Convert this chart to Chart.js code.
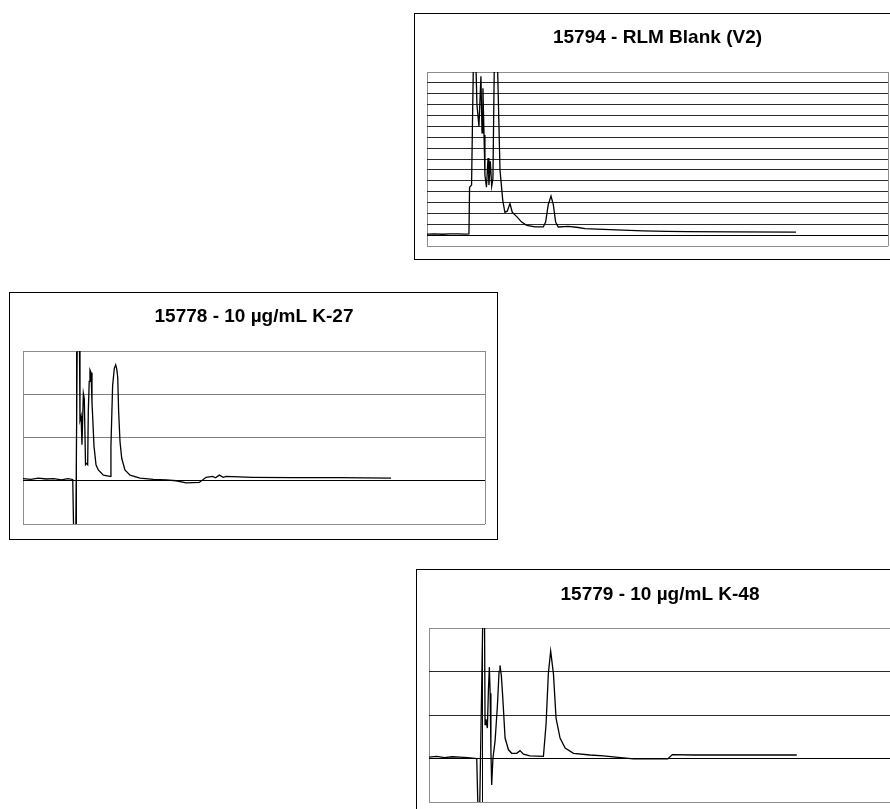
<!DOCTYPE html>
<html>
<head>
<meta charset="utf-8">
<title>Chromatograms</title>
<script src="https://cdn.jsdelivr.net/npm/chart.js@4.4.1/dist/chart.umd.min.js"></script>
<style>
html,body{margin:0;padding:0;background:#fff;overflow:hidden;width:890px;height:809px;}
.panel{position:absolute;border:1px solid #000;background:#fff;}
.panel canvas{display:block;}
</style>
</head>
<body>

<div class="panel" style="left:414px;top:13px;"><canvas id="chart15794" width="488" height="245"></canvas></div>
<div class="panel" style="left:9px;top:292px;"><canvas id="chart15778" width="487" height="246"></canvas></div>
<div class="panel" style="left:416px;top:569px;"><canvas id="chart15779" width="487" height="247"></canvas></div>

<script>
// =========================================
// Chromatogram traces (time in min, signal in grid units)
// =========================================

Chart.defaults.font.family = "'Liberation Sans', Arial, sans-serif";
Chart.defaults.color = "#000000";

const xMin = -3.5;
const xMax = 26.5;

// 15794 - RLM Blank (V2)
const blankTimes = [
    -3.5,-3.0,-2.5,-2.0,-1.5,-1.0,-0.77,-0.73,-0.60,-0.46,-0.36,-0.25,-0.12,
    0.01,0.08,0.14,0.21,0.27,0.37,0.47,0.53,0.62,0.71,0.79,0.90,1.05,1.15,
    1.25,1.43,1.57,1.72,1.90,2.05,2.34,2.66,2.99,3.53,4.07,4.22,4.39,4.57,
    4.72,4.87,5.04,5.69,6.34,6.78,7.56,8.41,10.55,12.11,13.42,16.5,20.51
];
const blankSignal = [
    0.10,0.12,0.08,0.11,0.12,0.10,0.12,4.4,4.6,18,18,12,10,
    14.6,9.4,13.5,9.2,5.5,4.4,7.1,4.6,6.8,4.5,5.2,18,18,12,
    6,3.2,2.1,2.2,2.9,2.1,1.7,1.2,0.9,0.75,0.75,1.2,2.8,3.6,
    2.8,1.2,0.75,0.8,0.7,0.6,0.55,0.5,0.4,0.34,0.32,0.3,0.28
];

// 15778 - 10 µg/mL K-27
const k27Times = [
    -3.5,-3.0,-2.5,-2.0,-1.5,-1.0,-0.6,-0.27,-0.19,-0.08,0.03,0.16,0.20,0.27,
    0.33,0.42,0.48,0.56,0.63,0.70,0.74,0.80,0.85,0.92,0.98,1.02,1.11,1.24,
    1.39,1.72,2.15,2.21,2.32,2.43,2.52,2.58,2.65,2.71,2.80,2.91,3.12,3.45,
    4.10,4.96,5.8,6.44,7.09,7.95,8.39,8.82,9.0,9.25,9.5,9.69,11.4,14.0,
    17.0,20.4
];
const k27Signal = [
    0.05,0.03,0.06,0.04,0.05,0.02,0.05,0.03,-1.6,-1.6,3.6,3.6,1.4,1.5,
    0.83,2.02,1.9,0.37,0.4,0.37,1.6,2.3,2.56,2.5,1.8,1.52,0.8,0.37,
    0.25,0.13,0.1,0.8,2.2,2.6,2.68,2.6,2.4,1.6,0.9,0.52,0.25,0.13,
    0.06,0.03,0.02,0.0,-0.05,-0.04,0.08,0.1,0.07,0.13,0.08,0.1,0.08,0.07,
    0.07,0.06
];

// 15779 - 10 µg/mL K-48
const k48Times = [
    -3.5,-3.0,-2.5,-2.0,-1.5,-1.0,-0.40,-0.29,-0.23,0.01,0.10,0.14,0.20,
    0.29,0.36,0.42,0.47,0.52,0.57,0.65,0.79,0.94,1.05,1.11,1.20,1.29,1.44,
    1.66,1.87,2.20,2.41,2.63,3.06,3.93,4.10,4.25,4.40,4.58,4.75,5.01,5.34,
    5.88,6.96,7.82,9.77,12.0,12.3,13.67,17.0,20.38
];
const k48Signal = [
    0.03,0.05,0.02,0.04,0.03,0.02,0.0,-1.6,-1.6,3.6,3.6,0.78,0.9,
    0.7,1.6,2.1,1.5,0.2,-0.61,0.0,0.4,1.2,2.0,2.14,1.9,1.4,0.47,
    0.2,0.12,0.12,0.18,0.1,0.06,0.05,0.78,1.95,2.47,1.95,0.93,0.47,0.24,
    0.12,0.08,0.06,-0.01,-0.01,0.09,0.08,0.08,0.08
];

// vertical grid positions (plot edges, and the time-zero axis)
const blankGridX = [-3.5, 26.5];
const sampleGridX = [-3.5, 0, 26.5];

const frameColor = "#8c8c8c";

// =========================================
// Trace Chart
// =========================================

function createTrace(canvasId, title, times, signal, yMin, yMax, gridX, gridColor, pad, titleTop){

    const points = times.map((t,i) => ({x:t, y:signal[i]}));

    return new Chart(document.getElementById(canvasId),{

        type:"line",

        data:{
            datasets:[{
                data:points,
                borderColor:"#000000",
                borderWidth:1.3,
                pointRadius:0,
                tension:0,
                fill:false
            }]
        },

        options:{
            responsive:false,
            animation:false,
            events:[],
            layout:{
                padding:{left:pad.left, right:pad.right, bottom:pad.bottom, top:0}
            },
            plugins:{
                legend:{display:false},
                tooltip:{enabled:false},
                title:{
                    display:true,
                    text:title,
                    color:"#000000",
                    font:{size:19, weight:"bold"},
                    padding:{top:titleTop, bottom:58 - 22.8 - titleTop}
                }
            },
            scales:{
                x:{
                    type:"linear",
                    min:xMin,
                    max:xMax,
                    afterBuildTicks:scale => {
                        scale.ticks = gridX.map(v => ({value:v}));
                    },
                    ticks:{display:false},
                    border:{display:false},
                    grid:{
                        drawTicks:false,
                        tickLength:0,
                        color:ctx => ctx.tick && ctx.tick.value === 0 ? "#000000" : frameColor
                    }
                },
                y:{
                    min:yMin,
                    max:yMax,
                    ticks:{display:false, stepSize:1},
                    border:{display:false},
                    grid:{
                        drawTicks:false,
                        tickLength:0,
                        color:ctx => {
                            const v = ctx.tick ? ctx.tick.value : null;
                            if(v === 0) return "#000000";
                            if(v === yMin || v === yMax) return frameColor;
                            return gridColor;
                        }
                    }
                }
            }
        }
    });
}

// =========================================
// Draw
// =========================================

createTrace("chart15794","15794 - RLM Blank (V2)",blankTimes,blankSignal,-1,15,blankGridX,"#2a2a2a",
    {left:12,right:15,bottom:13},12);

createTrace("chart15778","15778 - 10 µg/mL K-27",k27Times,k27Signal,-1,3,sampleGridX,"#808080",
    {left:13,right:12,bottom:15},12);

createTrace("chart15779","15779 - 10 µg/mL K-48",k48Times,k48Signal,-1,3,sampleGridX,"#2a2a2a",
    {left:12,right:13,bottom:15},13);
</script>
</body>
</html>
